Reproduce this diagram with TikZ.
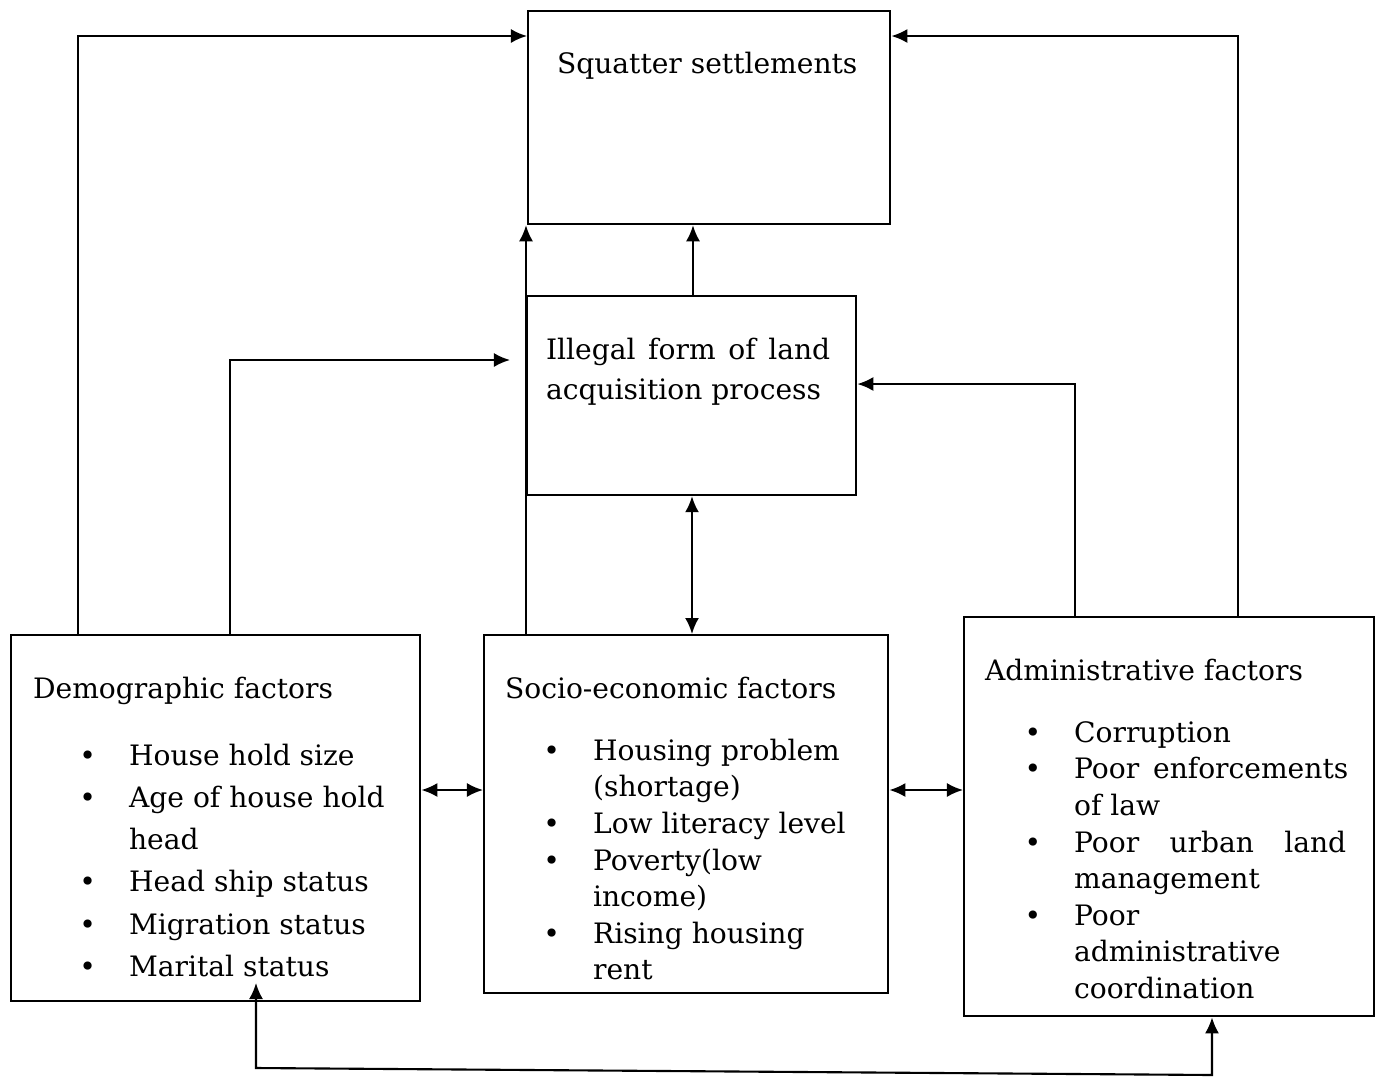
\documentclass[tikz,border=0pt]{standalone}
\usepackage{fontspec}
\setmainfont{DejaVu Serif}
\usetikzlibrary{arrows.meta}
\newcommand{\bul}[1]{\hspace*{#1}\llap{\textbullet\hspace{3.3mm}}}
\newcommand{\cont}[1]{\hspace*{#1}}

\begin{document}
\begin{tikzpicture}[x=0.01cm, y=-0.01cm, line width=0.6pt,
	>={Latex[length=1.6mm, width=1.4mm]},
	box/.style={draw, inner sep=0pt, anchor=north west},
	txt/.style={inner sep=0pt, anchor=north west, align=left, font=\fontsize{8}{10.4}\selectfont},
	widetxt/.style={txt, font=\fontsize{8}{12}\selectfont}]
	\useasboundingbox (0,0) rectangle (1381,1078);
	\node[box, minimum width=3.62cm, minimum height=2.13cm] (squat) at (527,10) {};
	\node[box, minimum width=3.29cm, minimum height=1.99cm] (illeg) at (526,295) {};
	\node[box, minimum width=4.09cm, minimum height=3.66cm] (demo) at (10,634) {};
	\node[box, minimum width=4.04cm, minimum height=3.58cm] (socio) at (483,634) {};
	\node[box, minimum width=4.10cm, minimum height=3.99cm] (admin) at (963,616) {};
	\node[txt] (squattxt) at (556,51) {Squatter settlements};
	\node[txt, font=\fontsize{8}{11.4}\selectfont] (illtxt) at (545,337) {\makebox[2.84cm][s]{Illegal form of land}\\acquisition process};
	\node[widetxt] (demotxt) at (32,676) {Demographic factors\\[7pt]
		\bul{9.6mm}House hold size\\
		\bul{9.6mm}Age of house hold\\
		\cont{9.6mm}head\\
		\bul{9.6mm}Head ship status\\
		\bul{9.6mm}Migration status\\
		\bul{9.6mm}Marital status};
	\node[txt] (sociotxt) at (504,676) {Socio-economic factors\\[7.2pt]
		\bul{8.8mm}Housing problem\\
		\cont{8.8mm}(shortage)\\
		\bul{8.8mm}Low literacy level\\
		\bul{8.8mm}Poverty(low\\
		\cont{8.8mm}income)\\
		\bul{8.8mm}Rising housing\\
		\cont{8.8mm}rent};
	\node[txt] (admintxt) at (984,658) {Administrative factors\\[7.2pt]
		\bul{8.9mm}Corruption\\
		\bul{8.9mm}\makebox[2.74cm][s]{Poor enforcements}\\
		\cont{8.9mm}of law\\
		\bul{8.9mm}\makebox[2.72cm][s]{Poor urban land}\\
		\cont{8.9mm}management\\
		\bul{8.9mm}Poor\\
		\cont{8.9mm}administrative\\
		\cont{8.9mm}coordination};
	\coordinate (illin) at (510,360);
	\coordinate (marital) at (256,983);
	\draw[->] (demo.north -| 78,0) |- (squat.west |- 0,36);
	\draw[->] (demo.north -| 230,0) |- (illin);
	\draw[->] (socio.north -| illeg.west) -- (squat.south -| illeg.west);
	\draw[->] (illeg.north -| 693,0) -- (squat.south -| 693,0);
	\draw[<->] (socio.north -| 692,0) -- (illeg.south -| 692,0);
	\draw[->] (admin.north -| 1075,0) |- (illeg.east |- 0,384);
	\draw[->] (admin.north -| 1238,0) |- (squat.east |- 0,36);
	\draw[<->] (demo.east |- 0,790) -- (socio.west |- 0,790);
	\draw[<->] (socio.east |- 0,790) -- (admin.west |- 0,790);
	\draw[<->] (marital) -- (256,1068) -- (1212,1075) -- (admin.south -| 1212,0);
\end{tikzpicture}
\end{document}
